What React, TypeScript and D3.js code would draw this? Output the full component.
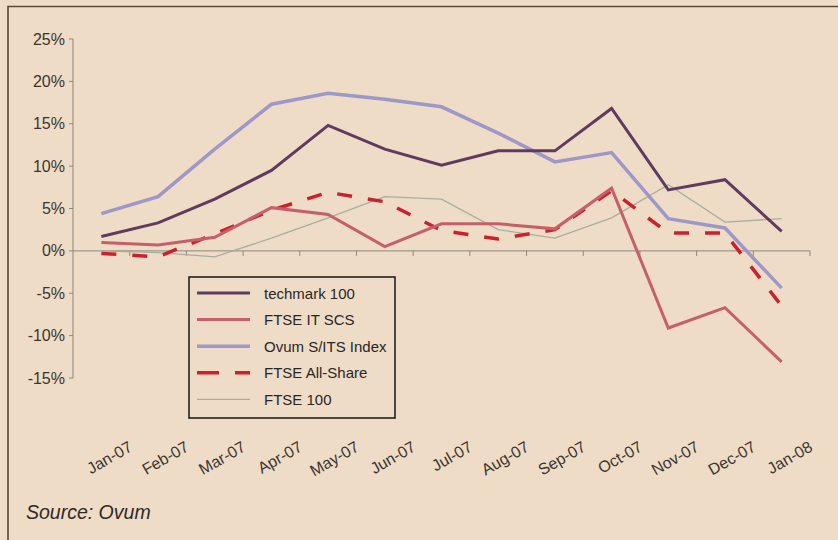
import React, { useEffect, useRef } from "react";
import * as d3 from "d3";

const months = [
  "Jan-07", "Feb-07", "Mar-07", "Apr-07", "May-07", "Jun-07", "Jul-07",
  "Aug-07", "Sep-07", "Oct-07", "Nov-07", "Dec-07", "Jan-08",
];

const techmark = [1.7, 3.3, 6.1, 9.5, 14.8, 12.0, 10.1, 11.8, 11.8, 16.8, 7.2, 8.4, 2.3];
const itScs = [1.0, 0.7, 1.6, 5.1, 4.3, 0.5, 3.2, 3.2, 2.6, 7.4, -9.1, -6.7, -13.1];
const ovum = [4.4, 6.4, 12.0, 17.3, 18.6, 17.9, 17.0, 13.9, 10.5, 11.6, 3.8, 2.7, -4.4];
const allShare = [-0.3, -0.7, 2.0, 4.8, 6.9, 5.8, 2.4, 1.4, 2.5, 7.1, 2.1, 2.1, -6.5];
const ftse100 = [0.0, -0.2, -0.7, 1.5, 3.9, 6.4, 6.1, 2.5, 1.5, 3.9, 7.8, 3.4, 3.8];

const yTicks = [25, 20, 15, 10, 5, 0, -5, -10, -15];

const series = [
  { name: "techmark 100", values: techmark, color: "#5f3b60", width: 3, dash: null },
  { name: "FTSE IT SCS", values: itScs, color: "#c55f69", width: 3, dash: null },
  { name: "Ovum S/ITS Index", values: ovum, color: "#9e98c8", width: 3.5, dash: null },
  { name: "FTSE All-Share", values: allShare, color: "#cc1f30", width: 3.5, dash: "15,16" },
  { name: "FTSE 100", values: ftse100, color: "#a9ae9c", width: 1.3, dash: null },
];

const W = 838;
const H = 540;
const font = "'Liberation Sans', Arial, sans-serif";

export default function App() {
  const svgRef = useRef(null);

  useEffect(() => {
    const svg = d3.select(svgRef.current);
    svg.selectAll("*").remove();

    // background + frame
    svg.append("rect").attr("width", W).attr("height", H).attr("fill", "#efdcc7");
    svg
      .append("path")
      .attr("d", `M8,${H} L8,6.5 L${W},6.5`)
      .attr("fill", "none")
      .attr("stroke", "#5b4a30")
      .attr("stroke-width", 1.6);

    const x0 = 73;
    const x1 = 810;
    const x = d3.scaleBand().domain(months).range([x0, x1]);
    const y = d3.scaleLinear().domain([-15, 25]).range([378, 39]);
    const cx = (i) => x(months[i]) + x.bandwidth() / 2;

    const axisColor = "#8c857a";

    // y axis
    const gy = svg.append("g");
    gy.append("line")
      .attr("x1", x0).attr("x2", x0)
      .attr("y1", y(25)).attr("y2", y(-15))
      .attr("stroke", axisColor).attr("stroke-width", 1);
    yTicks.forEach((t) => {
      gy.append("line")
        .attr("x1", x0 - 4).attr("x2", x0)
        .attr("y1", y(t)).attr("y2", y(t))
        .attr("stroke", axisColor);
      gy.append("text")
        .attr("x", 65)
        .attr("y", y(t) + 5.5)
        .attr("text-anchor", "end")
        .attr("font-family", font)
        .attr("font-size", 16)
        .attr("fill", "#3a3530")
        .text(`${t}%`);
    });

    // x axis at 0%
    const gx = svg.append("g");
    gx.append("line")
      .attr("x1", x0).attr("x2", x1)
      .attr("y1", y(0)).attr("y2", y(0))
      .attr("stroke", axisColor);
    months.forEach((m, i) => {
      const tx = x(m) + x.bandwidth();
      gx.append("line")
        .attr("x1", tx).attr("x2", tx)
        .attr("y1", y(0)).attr("y2", y(0) + 5)
        .attr("stroke", axisColor);
      gx.append("text")
        .attr("transform", `translate(${cx(i) + 32},${450}) rotate(-30)`)
        .attr("text-anchor", "end")
        .attr("font-family", font)
        .attr("font-size", 16)
        .attr("fill", "#3a3530")
        .text(m);
    });

    // lines
    const line = d3
      .line()
      .x((d, i) => cx(i))
      .y((d) => y(d));

    [...series].reverse().forEach((s) => {
      svg.append("path")
        .attr("d", line(s.values))
        .attr("fill", "none")
        .attr("stroke", s.color)
        .attr("stroke-width", s.width)
        .attr("stroke-dasharray", s.dash)
        .attr("stroke-linejoin", "miter");
    });

    // legend
    const lg = svg.append("g");
    lg.append("rect")
      .attr("x", 189).attr("y", 277)
      .attr("width", 206).attr("height", 141)
      .attr("fill", "#efdcc7")
      .attr("stroke", "#151515")
      .attr("stroke-width", 1.5);
    series.forEach((s, i) => {
      const ly = 293 + i * 26.6;
      lg.append("line")
        .attr("x1", 197).attr("x2", 250)
        .attr("y1", ly).attr("y2", ly)
        .attr("stroke", s.color)
        .attr("stroke-width", s.width)
        .attr("stroke-dasharray", s.dash ? "22,16" : null);
      lg.append("text")
        .attr("x", 264)
        .attr("y", ly + 5.5)
        .attr("font-family", font)
        .attr("font-size", 15)
        .attr("fill", "#2a2624")
        .text(s.name);
    });

    svg.append("text")
      .attr("x", 26)
      .attr("y", 519)
      .attr("font-family", font)
      .attr("font-size", 19.5)
      .attr("font-style", "italic")
      .attr("fill", "#2e2a26")
      .text("Source: Ovum");
  }, []);

  return (
    <svg
      ref={svgRef}
      width={W}
      height={H}
      style={{ position: "absolute", left: 0, top: 0, display: "block" }}
    />
  );
}
